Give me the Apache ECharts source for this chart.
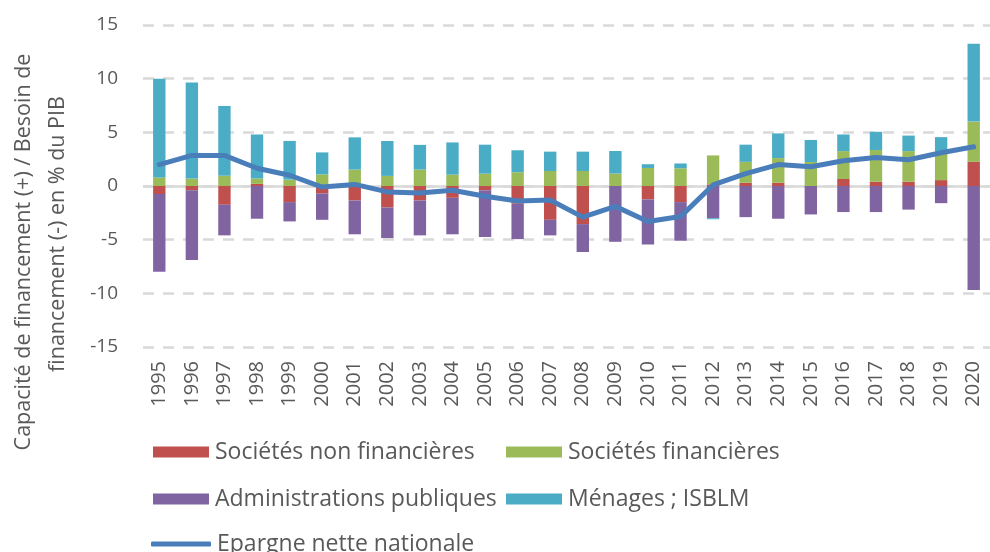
<!DOCTYPE html>
<html>
<head>
<meta charset="utf-8">
<script src="https://cdn.jsdelivr.net/npm/echarts@6/dist/echarts.min.js"></script>
<style>
  html, body { margin: 0; padding: 0; background: #ffffff; }
  #chart { width: 990px; height: 552px; }
</style>
</head>
<body>
<div id="chart"></div>
<script>
// Années
const years = ['1995','1996','1997','1998','1999','2000','2001','2002','2003','2004','2005','2006','2007',
               '2008','2009','2010','2011','2012','2013','2014','2015','2016','2017','2018','2019','2020'];

// Capacité (+) / besoin (-) de financement par secteur, en % du PIB
const societesNonFinancieres = [-0.75,-0.4,-1.75,0.2,-1.5,-0.7,-1.35,-2.0,-1.35,-1.1,-0.4,-1.65,-3.15,
                                -3.55,0,-1.25,-1.5,0.15,0.3,0.3,0,0.65,0.4,0.4,0.55,2.25];
const societesFinancieres = [0.8,0.7,0.95,0.5,0.6,1.08,1.53,0.94,1.53,1.06,1.15,1.28,1.4,
                             1.4,1.16,1.68,1.65,2.7,1.95,2.3,2.24,2.6,2.95,2.85,2.7,3.75];
const administrationsPubliques = [-7.25,-6.5,-2.85,-3.05,-1.8,-2.45,-3.15,-2.85,-3.25,-3.4,-4.35,-3.3,-1.45,
                                  -2.6,-5.2,-4.2,-3.6,-3.0,-2.9,-3.05,-2.65,-2.43,-2.43,-2.2,-1.6,-9.7];
const menagesIsblm = [9.2,8.95,6.5,4.1,3.6,2.05,3.0,3.25,2.3,3.0,2.7,2.05,1.8,
                      1.8,2.1,0.35,0.45,-0.1,1.6,2.3,2.05,1.55,1.7,1.45,1.3,7.25];
const epargneNetteNationale = [2.0,2.85,2.85,1.65,1.0,-0.1,0.15,-0.55,-0.65,-0.4,-0.95,-1.4,-1.3,
                               -2.9,-1.9,-3.3,-2.85,0.1,1.15,2.0,1.8,2.35,2.65,2.45,3.1,3.65];

// Graduations de l'axe des valeurs
const yTicks = { min: -15, max: 15, step: 5 };

const FONT = '"Open Sans", "DejaVu Sans", sans-serif';
const TXT = '#595959';
const colors = {
  snf: '#c0504d',
  sf: '#9bbb59',
  apu: '#8064a2',
  men: '#4bacc6',
  epn: '#4a7ebb'
};

const chart = echarts.init(document.getElementById('chart'), null, { renderer: 'canvas' });

function barSeries(name, data, color, extra) {
  return Object.assign({
    name: name,
    type: 'bar',
    stack: 'secteurs',
    data: data,
    barWidth: '38%',
    itemStyle: { color: color },
    emphasis: { disabled: true }
  }, extra || {});
}

function legendItem(name, left, centerY, isLine) {
  return {
    data: [name],
    left: left,
    top: centerY - 14,
    padding: 0,
    itemWidth: isLine ? 60 : 56,
    itemHeight: isLine ? 5 : 11,
    itemGap: 0,
    icon: isLine ? 'roundRect' : 'rect',
    selectedMode: false,
    textStyle: { fontFamily: FONT, fontSize: 23, color: TXT, padding: [0, 0, 0, 1], lineHeight: 28 }
  };
}

chart.setOption({
  animation: false,
  backgroundColor: '#ffffff',
  grid: { left: 143, top: 25, width: 850, height: 322, containLabel: false },
  xAxis: {
    type: 'category',
    data: years,
    axisLine: { show: false },
    axisTick: { show: false },
    axisLabel: { rotate: 90, margin: 14, fontFamily: FONT, fontSize: 20, color: TXT, interval: 0 },
    splitLine: { show: false }
  },
  yAxis: {
    type: 'value',
    min: yTicks.min,
    max: yTicks.max,
    interval: yTicks.step,
    axisLine: { show: false },
    axisTick: { show: false },
    axisLabel: { margin: 25, fontFamily: FONT, fontSize: 19, color: TXT },
    splitLine: { lineStyle: { color: '#d9d9d9', width: 2.5, type: [11, 9] } }
  },
  legend: [
    legendItem('Sociétés non financières', 153, 452, false),
    legendItem('Sociétés financières', 506, 452, false),
    legendItem('Administrations publiques', 153, 499, false),
    legendItem('Ménages ; ISBLM', 506, 499, false),
    legendItem('Epargne nette nationale', 151, 544, true)
  ],
  graphic: [
    {
      type: 'text',
      x: 24, y: 252,
      rotation: Math.PI / 2,
      style: {
        text: 'Capacité de financement (+) / Besoin de',
        fontFamily: FONT, fontSize: 21.5, fill: TXT,
        textAlign: 'center', textVerticalAlign: 'middle'
      }
    },
    {
      type: 'text',
      x: 58, y: 234,
      rotation: Math.PI / 2,
      style: {
        text: 'financement (-) en % du PIB',
        fontFamily: FONT, fontSize: 21.5, fill: TXT,
        textAlign: 'center', textVerticalAlign: 'middle'
      }
    }
  ],
  series: [
    barSeries('Sociétés non financières', societesNonFinancieres, colors.snf, {
      markLine: {
        silent: true,
        symbol: 'none',
        label: { show: false },
        lineStyle: { color: '#d9d9d9', width: 2.5, type: 'solid' },
        data: [{ yAxis: 0 }],
        z: 1
      }
    }),
    barSeries('Sociétés financières', societesFinancieres, colors.sf),
    barSeries('Administrations publiques', administrationsPubliques, colors.apu),
    barSeries('Ménages ; ISBLM', menagesIsblm, colors.men),
    {
      name: 'Epargne nette nationale',
      type: 'line',
      data: epargneNetteNationale,
      symbol: 'none',
      z: 5,
      lineStyle: { color: colors.epn, width: 5, join: 'round', cap: 'round' },
      itemStyle: { color: colors.epn },
      emphasis: { disabled: true }
    }
  ]
});
</script>
</body>
</html>
